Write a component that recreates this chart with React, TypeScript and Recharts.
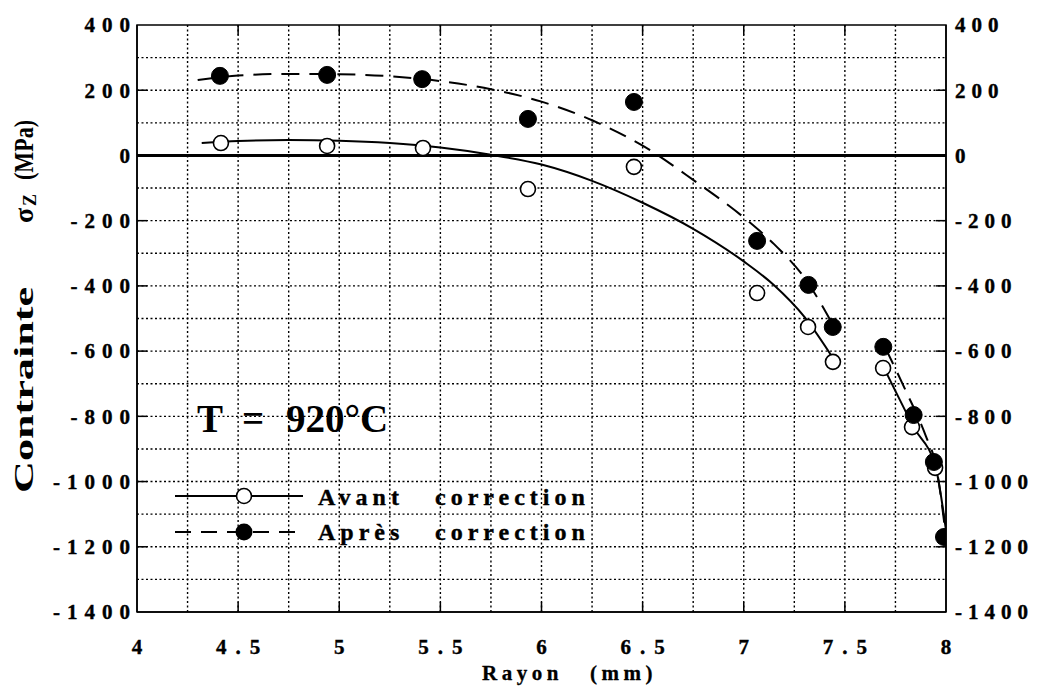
import React from 'react';
import {
  ComposedChart,
  Line,
  Scatter,
  XAxis,
  YAxis,
  ReferenceLine,
  ReferenceArea,
} from 'recharts';

// ---- Data ----
const xTicks = [4, 4.5, 5, 5.5, 6, 6.5, 7, 7.5, 8];
const yTicks = [-1400, -1200, -1000, -800, -600, -400, -200, 0, 200, 400];
const gridX = [4.25, 4.5, 4.75, 5, 5.25, 5.5, 5.75, 6, 6.25, 6.5, 6.75, 7, 7.25, 7.5, 7.75];
const gridY = [-1300, -1200, -1100, -1000, -900, -800, -700, -600, -500, -400, -300, -200, -100, 100, 200, 300];

// measured points
const avantPoints = [
  { x: 4.415, y: 38 },
  { x: 4.94, y: 29 },
  { x: 5.414, y: 23 },
  { x: 5.933, y: -103 },
  { x: 6.457, y: -35 },
  { x: 7.066, y: -422 },
  { x: 7.318, y: -526 },
  { x: 7.441, y: -633 },
  { x: 7.689, y: -652 },
  { x: 7.832, y: -833 },
  { x: 7.946, y: -958 },
];
const apresPoints = [
  { x: 4.41, y: 244 },
  { x: 4.94, y: 247 },
  { x: 5.41, y: 234 },
  { x: 5.933, y: 112 },
  { x: 6.457, y: 164 },
  { x: 7.066, y: -262 },
  { x: 7.32, y: -397 },
  { x: 7.44, y: -526 },
  { x: 7.69, y: -587 },
  { x: 7.84, y: -796 },
  { x: 7.94, y: -940 },
  { x: 7.99, y: -1170 },
];

// fitted curves
const avantCurve1 = [
  { x: 4.32, y: 38 },
  { x: 4.5, y: 44 },
  { x: 4.75, y: 47 },
  { x: 5.0, y: 45 },
  { x: 5.25, y: 38 },
  { x: 5.5, y: 24 },
  { x: 5.75, y: 2 },
  { x: 6.0, y: -28 },
  { x: 6.25, y: -78 },
  { x: 6.5, y: -145 },
  { x: 6.75, y: -225 },
  { x: 7.0, y: -325 },
  { x: 7.15, y: -398 },
  { x: 7.3, y: -495 },
  { x: 7.45, y: -630 },
];
const avantCurve2 = [
  { x: 7.7, y: -660 },
  { x: 7.84, y: -833 },
  { x: 7.95, y: -960 },
  { x: 8.0, y: -1150 },
];
const apresCurve1 = [
  { x: 4.3, y: 231 },
  { x: 4.5, y: 245 },
  { x: 4.75, y: 250 },
  { x: 5.0, y: 249 },
  { x: 5.25, y: 243 },
  { x: 5.5, y: 228 },
  { x: 5.75, y: 203 },
  { x: 6.0, y: 165 },
  { x: 6.25, y: 108 },
  { x: 6.5, y: 30 },
  { x: 6.75, y: -75 },
  { x: 7.0, y: -190 },
  { x: 7.15, y: -272 },
  { x: 7.3, y: -375 },
  { x: 7.45, y: -530 },
];
const apresCurve2 = [
  { x: 7.7, y: -590 },
  { x: 7.8, y: -720 },
  { x: 7.9, y: -860 },
  { x: 7.95, y: -950 },
  { x: 8.0, y: -1170 },
];

const FONT = "'Liberation Serif', 'Times New Roman', serif";
const xMajorMarks = [4.5, 5, 5.5, 6, 6.5, 7, 7.5];
const yMajorMarks = [-1200, -1000, -800, -600, -400, -200, 200];
const X_MARK = 0.05; // inward tick length in x units
const Y_MARK = 30; // inward tick length in y units

const OpenCircle = (props: any) => {
  const { cx, cy } = props;
  if (cx == null || cy == null) return null;
  return <circle cx={cx} cy={cy} r={7.5} fill="#fff" stroke="#000" strokeWidth={1.6} />;
};
const FilledCircle = (props: any) => {
  const { cx, cy } = props;
  if (cx == null || cy == null) return null;
  return <circle cx={cx} cy={cy} r={8.5} fill="#000" stroke="#000" strokeWidth={1} />;
};

const tickStyle = { fontFamily: FONT, fontWeight: 700 as const, fontSize: 21, fill: '#000', stroke: '#000', strokeWidth: 0.4 };

const LeftTick = (props: any) => {
  const { x, y, payload } = props;
  return (
    <text x={x + 8} y={y} dy="0.35em" textAnchor="end" style={tickStyle} letterSpacing={7}>
      {payload.value}
    </text>
  );
};
const RightTick = (props: any) => {
  const { x, y, payload } = props;
  return (
    <text x={x + 1} y={y} dy="0.35em" textAnchor="start" style={tickStyle} letterSpacing={6}>
      {payload.value}
    </text>
  );
};
const BottomTick = (props: any) => {
  const { x, y, payload } = props;
  return (
    <text x={x + 4.5} y={y} dy={34} textAnchor="middle" style={tickStyle} letterSpacing={9}>
      {payload.value}
    </text>
  );
};

const dotted = { stroke: '#000', strokeWidth: 1.4, strokeDasharray: '2 2.5' };

export default function App() {
  return (
    <div style={{ position: 'absolute', left: 0, top: 0, width: 1039, height: 692, background: '#fff' }}>
      <ComposedChart
        width={1039}
        height={692}
        margin={{ top: 25, right: 0, bottom: 0, left: 0 }}
      >
        <XAxis
          dataKey="x"
          type="number"
          domain={[4, 8]}
          ticks={xTicks}
          allowDataOverflow
          height={80}
          tick={<BottomTick />}
          tickLine={false}
          axisLine={{ stroke: '#000', strokeWidth: 1.5 }}
        />
        <YAxis
          yAxisId="left"
          type="number"
          domain={[-1400, 400]}
          ticks={yTicks}
          allowDataOverflow
          width={137}
          tick={<LeftTick />}
          tickLine={false}
          axisLine={{ stroke: '#000', strokeWidth: 1.5 }}
        />
        <YAxis
          yAxisId="right"
          orientation="right"
          type="number"
          domain={[-1400, 400]}
          ticks={yTicks}
          allowDataOverflow
          width={93}
          tick={<RightTick />}
          tickLine={false}
          axisLine={{ stroke: '#000', strokeWidth: 1.5 }}
        />

        {gridX.map((v) => (
          <ReferenceLine key={'gx' + v} yAxisId="left" x={v} {...dotted} />
        ))}
        {gridY.map((v) => (
          <ReferenceLine key={'gy' + v} yAxisId="left" y={v} {...dotted} />
        ))}

        {xMajorMarks.map((v) => (
          <ReferenceLine
            key={'mxb' + v}
            yAxisId="left"
            segment={[{ x: v, y: -1400 }, { x: v, y: -1400 + Y_MARK }]}
            stroke="#000"
            strokeWidth={1.5}
          />
        ))}
        {xMajorMarks.map((v) => (
          <ReferenceLine
            key={'mxt' + v}
            yAxisId="left"
            segment={[{ x: v, y: 400 }, { x: v, y: 400 - Y_MARK }]}
            stroke="#000"
            strokeWidth={1.5}
          />
        ))}
        {yMajorMarks.map((v) => (
          <ReferenceLine
            key={'myl' + v}
            yAxisId="left"
            segment={[{ x: 4, y: v }, { x: 4 + X_MARK, y: v }]}
            stroke="#000"
            strokeWidth={1.5}
          />
        ))}
        {yMajorMarks.map((v) => (
          <ReferenceLine
            key={'myr' + v}
            yAxisId="left"
            segment={[{ x: 8, y: v }, { x: 8 - X_MARK, y: v }]}
            stroke="#000"
            strokeWidth={1.5}
          />
        ))}

        <ReferenceArea yAxisId="left" x1={4} x2={8} y1={-1400} y2={400} fill="none" stroke="#000" strokeWidth={1.5} />
        <ReferenceLine yAxisId="left" y={0} stroke="#000" strokeWidth={3} />

        <Line yAxisId="left" data={avantCurve1} dataKey="y" type="monotone" dot={false} stroke="#000" strokeWidth={2} isAnimationActive={false} />
        <Line yAxisId="left" data={avantCurve2} dataKey="y" type="monotone" dot={false} stroke="#000" strokeWidth={2} isAnimationActive={false} />
        <Line yAxisId="left" data={apresCurve1} dataKey="y" type="monotone" dot={false} stroke="#000" strokeWidth={2} strokeDasharray="18 10" isAnimationActive={false} />
        <Line yAxisId="left" data={apresCurve2} dataKey="y" type="monotone" dot={false} stroke="#000" strokeWidth={2} strokeDasharray="18 10" isAnimationActive={false} />

        <Scatter yAxisId="left" data={avantPoints} dataKey="y" shape={<OpenCircle />} isAnimationActive={false} />
        <Scatter yAxisId="left" data={apresPoints} dataKey="y" shape={<FilledCircle />} isAnimationActive={false} />
      </ComposedChart>

      <svg width={1039} height={692} style={{ position: 'absolute', left: 0, top: 0, pointerEvents: 'none' }}>
        {/* annotation */}
        <g style={{ fontFamily: FONT, fontWeight: 700, fontSize: 39 }} fill="#000">
          <text x={197} y={432}>T</text>
          <text x={242} y={432}>=</text>
          <text x={286} y={432}>920°C</text>
        </g>
        {/* legend */}
        <line x1={175} y1={496} x2={303} y2={496} stroke="#000" strokeWidth={2} />
        <circle cx={244} cy={496} r={7.5} fill="#fff" stroke="#000" strokeWidth={1.6} />
        <line x1={175} y1={532} x2={303} y2={532} stroke="#000" strokeWidth={2} strokeDasharray="16 10" />
        <circle cx={244} cy={532} r={8.5} fill="#000" />
        <g style={{ fontFamily: FONT, fontWeight: 700, fontSize: 24 }} letterSpacing={5} fill="#000" stroke="#000" strokeWidth={0.4}>
          <text x={318} y={505}>Avant</text>
          <text x={435} y={505}>correction</text>
          <text x={318} y={540}>Après</text>
          <text x={435} y={540}>correction</text>
        </g>
        {/* x axis title */}
        <g style={{ fontFamily: FONT, fontWeight: 700, fontSize: 21 }} letterSpacing={4.5} fill="#000" stroke="#000" strokeWidth={0.3}>
          <text x={482} y={680}>Rayon</text>
          <text x={590} y={680}>(mm)</text>
        </g>
        {/* y axis title */}
        <g transform="translate(33,493) rotate(-90)" style={{ fontFamily: FONT, fontWeight: 700 }} fill="#000">
          <text x={0} y={0} fontSize={27} textLength={206} lengthAdjust="spacingAndGlyphs">
            Contrainte
          </text>
          <text x={270} y={0} fontSize={28}>σ</text>
          <text x={287} y={3} fontSize={18}>Z</text>
          <text x={313} y={0} fontSize={28} textLength={60} lengthAdjust="spacingAndGlyphs">(MPa)</text>
        </g>
      </svg>
    </div>
  );
}
